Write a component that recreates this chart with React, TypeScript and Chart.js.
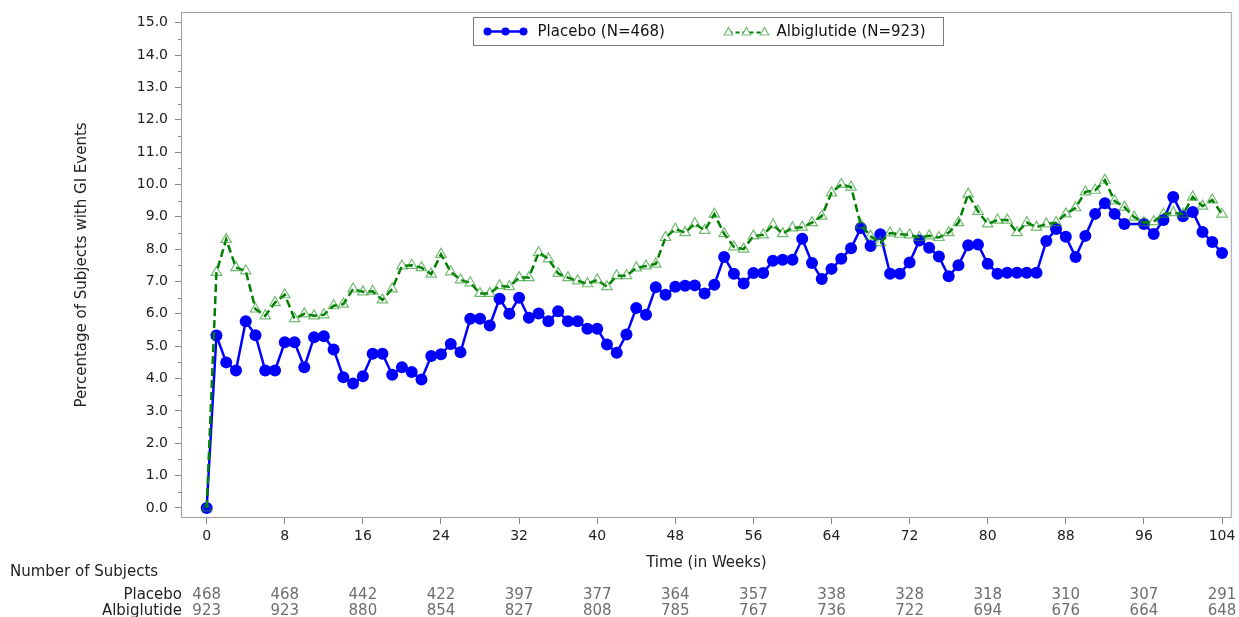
import React, { useEffect, useRef } from "react";
import { Chart, registerables } from "chart.js";

Chart.register(...registerables);

// Study week of each observation
const weeks = [
  0, 1, 2, 3, 4, 5, 6, 7, 8, 9, 10, 11, 12, 13, 14, 15, 16, 17, 18, 19, 20,
  21, 22, 23, 24, 25, 26, 27, 28, 29, 30, 31, 32, 33, 34, 35, 36, 37, 38, 39, 40,
  41, 42, 43, 44, 45, 46, 47, 48, 49, 50, 51, 52, 53, 54, 55, 56, 57, 58, 59, 60,
  61, 62, 63, 64, 65, 66, 67, 68, 69, 70, 71, 72, 73, 74, 75, 76, 77, 78, 79, 80,
  81, 82, 83, 84, 85, 86, 87, 88, 89, 90, 91, 92, 93, 94, 95, 96, 97, 98, 99, 100,
  101, 102, 103, 104,
];

// Percentage of subjects with GI events, Placebo arm (no value at week 95)
const placebo: (number | null)[] = [
  0, 5.33, 4.5, 4.25, 5.77, 5.34, 4.25, 4.25, 5.12, 5.12, 4.35,
  5.28, 5.31, 4.9, 4.04, 3.85, 4.07, 4.77, 4.77, 4.12, 4.35,
  4.2, 3.97, 4.7, 4.75, 5.07, 4.81, 5.85, 5.85, 5.64, 6.47,
  6.0, 6.5, 5.88, 6.01, 5.77, 6.08, 5.77, 5.77, 5.54, 5.54,
  5.05, 4.8, 5.36, 6.18, 5.97, 6.82, 6.59, 6.84, 6.87, 6.88,
  6.63, 6.9, 7.76, 7.24, 6.94, 7.26, 7.26, 7.64, 7.67, 7.67,
  8.32, 7.57, 7.08, 7.39, 7.7, 8.03, 8.65, 8.1, 8.46, 7.24,
  7.24, 7.59, 8.27, 8.04, 7.77, 7.16, 7.5, 8.12, 8.14, 7.55,
  7.24, 7.27, 7.27, 7.27, 7.27, 8.25, 8.62, 8.38, 7.76, 8.41,
  9.09, 9.42, 9.09, 8.78, null, 8.78, 8.47, 8.9, 9.61, 9.02,
  9.15, 8.53, 8.22, 7.88,
];

// Percentage of subjects with GI events, Albiglutide arm
const albiglutide: number[] = [
  0, 7.28, 8.3, 7.43, 7.33, 6.15, 5.94, 6.35, 6.59, 5.85, 6.0,
  5.94, 5.97, 6.25, 6.3, 6.77, 6.68, 6.7, 6.43, 6.77, 7.48,
  7.5, 7.43, 7.23, 7.84, 7.3, 7.05, 6.96, 6.63, 6.63, 6.87,
  6.84, 7.12, 7.12, 7.89, 7.7, 7.25, 7.12, 7.02, 6.93, 7.05,
  6.84, 7.18, 7.18, 7.42, 7.48, 7.54, 8.36, 8.62, 8.51, 8.79,
  8.58, 9.08, 8.48, 8.07, 8.0, 8.41, 8.44, 8.75, 8.48, 8.66,
  8.68, 8.82, 9.02, 9.74, 10.0, 9.92, 8.75, 8.4, 8.2, 8.5,
  8.46, 8.44, 8.36, 8.41, 8.36, 8.51, 8.82, 9.7, 9.17, 8.78,
  8.9, 8.9, 8.51, 8.82, 8.68, 8.78, 8.82, 9.09, 9.28, 9.77,
  9.82, 10.13, 9.49, 9.3, 8.99, 8.82, 8.85, 9.08, 9.13, 9.08,
  9.61, 9.33, 9.52, 9.08,
];

// X-axis tick weeks, also the columns of the subjects-at-risk table
const xTickWeeks = [0, 8, 16, 24, 32, 40, 48, 56, 64, 72, 80, 88, 96, 104];
const placeboAtRisk = [468, 468, 442, 422, 397, 377, 364, 357, 338, 328, 318, 310, 307, 291];
const albiglutideAtRisk = [923, 923, 880, 854, 827, 808, 785, 767, 736, 722, 694, 676, 664, 648];

// Y-axis labelled ticks and minor ticks
const yMajorTicks = [0, 1, 2, 3, 4, 5, 6, 7, 8, 9, 10, 11, 12, 13, 14, 15];
const yMinorTicks = [0.5, 1.5, 2.5, 3.5, 4.5, 5.5, 6.5, 7.5, 8.5, 9.5, 10.5, 11.5, 12.5, 13.5, 14.5];

const placeboLabel = "Placebo (N=468)";
const albiglutideLabel = "Albiglutide (N=923)";

const FONT = "'DejaVu Sans', sans-serif";
const BLUE = "#0000ff";
const GREEN = "#008000";
const TRI_EDGE = "rgba(40,150,40,0.65)";
const FRAME = "#a0a0a0";

function drawTriangle(ctx: CanvasRenderingContext2D, x: number, y: number, r: number) {
  ctx.beginPath();
  ctx.moveTo(x, y - r);
  ctx.lineTo(x + r * 0.866, y + r / 2);
  ctx.lineTo(x - r * 0.866, y + r / 2);
  ctx.closePath();
  ctx.fillStyle = "#ffffff";
  ctx.fill();
  ctx.stroke();
}

const decorations = {
  id: "decorations",
  beforeDatasetsDraw(chart: any) {
    const { ctx, chartArea } = chart;
    const { left, top, right, bottom } = chartArea;
    const yScale = chart.scales.y;
    ctx.save();
    // plot frame
    ctx.strokeStyle = FRAME;
    ctx.lineWidth = 1;
    ctx.strokeRect(left + 0.5, top + 0.5, right - left - 1, bottom - top - 1);
    // minor y ticks
    ctx.strokeStyle = "#888";
    ctx.beginPath();
    yMinorTicks.forEach((v) => {
      const py = Math.round(yScale.getPixelForValue(v)) + 0.5;
      ctx.moveTo(left - 3, py);
      ctx.lineTo(left, py);
    });
    ctx.stroke();
    ctx.restore();
  },
  afterDraw(chart: any) {
    const { ctx, chartArea } = chart;
    const xScale = chart.scales.x;
    ctx.save();

    // legend
    const cx = (chartArea.left + chartArea.right) / 2 + 1.5;
    const boxW = 470;
    const boxL = Math.round(cx - boxW / 2) + 0.5;
    const boxT = 17.5;
    const boxH = 28;
    const ly = boxT + boxH / 2;
    ctx.fillStyle = "#ffffff";
    ctx.fillRect(boxL, boxT, boxW, boxH);
    ctx.strokeStyle = "#7a7a7a";
    ctx.lineWidth = 1;
    ctx.strokeRect(boxL, boxT, boxW, boxH);

    const pX = boxL + 14;
    ctx.strokeStyle = BLUE;
    ctx.lineWidth = 2.5;
    ctx.beginPath();
    ctx.moveTo(pX, ly);
    ctx.lineTo(pX + 36, ly);
    ctx.stroke();
    ctx.fillStyle = BLUE;
    [0, 18, 36].forEach((d) => {
      ctx.beginPath();
      ctx.arc(pX + d, ly, 4, 0, Math.PI * 2);
      ctx.fill();
    });
    ctx.font = `15px ${FONT}`;
    ctx.fillStyle = "#111";
    ctx.textBaseline = "middle";
    ctx.textAlign = "left";
    ctx.fillText(placeboLabel, pX + 50, ly + 0.5);

    const aX = boxL + 255;
    ctx.strokeStyle = GREEN;
    ctx.lineWidth = 2;
    ctx.setLineDash([4, 3]);
    ctx.beginPath();
    ctx.moveTo(aX, ly + 1);
    ctx.lineTo(aX + 36, ly + 1);
    ctx.stroke();
    ctx.setLineDash([]);
    ctx.strokeStyle = TRI_EDGE;
    ctx.lineWidth = 1.2;
    [0, 18, 36].forEach((d) => drawTriangle(ctx, aX + d, ly + 1, 5));
    ctx.fillStyle = "#111";
    ctx.fillText(albiglutideLabel, aX + 48, ly + 0.5);

    // number of subjects table
    ctx.textBaseline = "alphabetic";
    ctx.font = `15px ${FONT}`;
    ctx.fillStyle = "#222";
    ctx.textAlign = "left";
    ctx.fillText("Number of Subjects", 10, 576);
    ctx.textAlign = "right";
    const labelRight = chartArea.left + 1;
    ctx.fillText("Placebo", labelRight, 599);
    ctx.fillText("Albiglutide", labelRight, 614.5);
    ctx.textAlign = "center";
    ctx.fillStyle = "#6e6e6e";
    xTickWeeks.forEach((w, i) => {
      const px = xScale.getPixelForValue(w);
      ctx.fillText(String(placeboAtRisk[i]), px, 599);
      ctx.fillText(String(albiglutideAtRisk[i]), px, 614.5);
    });
    ctx.restore();
  },
};

export default function App() {
  const canvasRef = useRef<HTMLCanvasElement | null>(null);

  useEffect(() => {
    document.body.style.margin = "0";
    const canvas = canvasRef.current;
    if (!canvas) return;

    const chart = new Chart(canvas, {
      type: "line",
      data: {
        datasets: [
          {
            label: placeboLabel,
            data: weeks.map((w, i) => ({ x: w, y: placebo[i] })) as any,
            borderColor: BLUE,
            borderWidth: 2.5,
            pointStyle: "circle",
            pointRadius: 6,
            pointBackgroundColor: BLUE,
            pointBorderColor: BLUE,
            pointBorderWidth: 0,
            spanGaps: true,
            tension: 0,
            order: 1,
          },
          {
            label: albiglutideLabel,
            data: weeks.map((w, i) => ({ x: w, y: albiglutide[i] })),
            borderColor: GREEN,
            borderWidth: 2.5,
            borderDash: [8, 4],
            pointStyle: "triangle",
            pointRadius: 6,
            pointBackgroundColor: "rgba(0,0,0,0)",
            pointBorderColor: TRI_EDGE,
            pointBorderWidth: 1.2,
            tension: 0,
            order: 0,
          },
        ],
      },
      options: {
        animation: false,
        responsive: false,
        events: [],
        layout: { padding: { left: 0, top: 12, right: 7, bottom: 0 } },
        plugins: {
          legend: { display: false },
          tooltip: { enabled: false },
        },
        scales: {
          x: {
            type: "linear",
            min: -2.63,
            max: 105,
            afterBuildTicks: (s: any) => {
              s.ticks = xTickWeeks.map((v) => ({ value: v }));
            },
            afterFit: (s: any) => {
              s.height = 99;
              s.paddingLeft = 0;
              s.paddingRight = 0;
            },
            border: { display: false },
            grid: {
              drawOnChartArea: false,
              drawTicks: true,
              tickLength: 6,
              color: "#888",
            },
            ticks: {
              font: { family: FONT, size: 14 },
              color: "#222",
              padding: 4,
              maxRotation: 0,
              autoSkip: false,
              callback: (v: any) => String(v),
            },
            title: {
              display: true,
              text: "Time (in Weeks)",
              font: { family: FONT, size: 15 },
              color: "#222",
              padding: { top: 0, bottom: 45 },
            },
          },
          y: {
            type: "linear",
            min: -0.31,
            max: 15.33,
            afterBuildTicks: (s: any) => {
              s.ticks = yMajorTicks.map((v) => ({ value: v }));
            },
            afterFit: (s: any) => {
              s.width = 181;
              s.paddingTop = 0;
              s.paddingBottom = 0;
            },
            border: { display: false },
            grid: {
              drawOnChartArea: false,
              drawTicks: true,
              tickLength: 6,
              color: "#888",
            },
            ticks: {
              font: { family: FONT, size: 14 },
              color: "#222",
              padding: 7,
              autoSkip: false,
              callback: (v: any) => Number(v).toFixed(1),
            },
            title: {
              display: true,
              text: "Percentage of Subjects with GI Events",
              font: { family: FONT, size: 15 },
              color: "#222",
              padding: { top: 73, bottom: 0 },
            },
          },
        },
      },
      plugins: [decorations],
    });

    return () => chart.destroy();
  }, []);

  return (
    <div style={{ width: 1239, height: 617, background: "#ffffff" }}>
      <canvas ref={canvasRef} width={1239} height={617} style={{ display: "block" }} />
    </div>
  );
}
